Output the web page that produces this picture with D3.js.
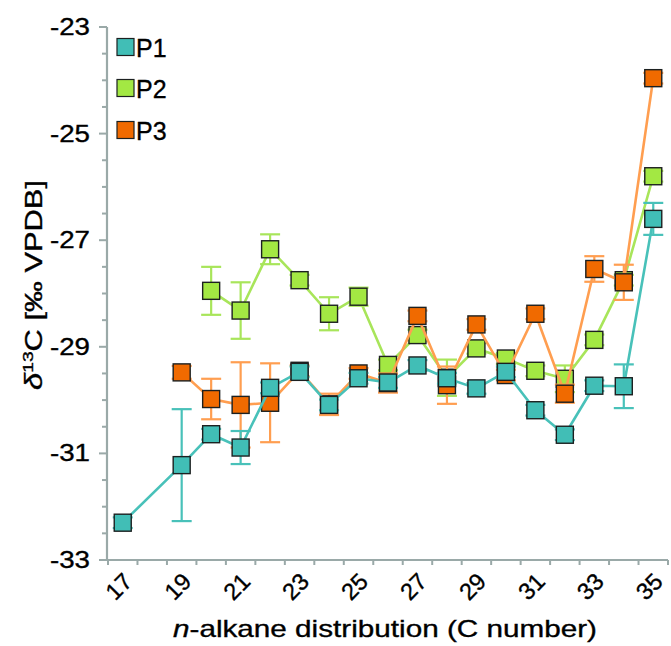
<!DOCTYPE html>
<html>
<head>
<meta charset="utf-8">
<script src="https://cdn.jsdelivr.net/npm/d3@7"></script>
<style>
  html, body { margin: 0; padding: 0; background: #ffffff; }
  svg { display: block; }
  text { font-family: "Liberation Sans", Arial, Helvetica, sans-serif; fill: #000; stroke: #000; stroke-width: 0.35px; }
</style>
</head>
<body>
<svg id="chart" width="671" height="646"></svg>
<script>
// ---- data ----
const carbon = [17,18,19,20,21,22,23,24,25,26,27,28,29,30,31,32,33,34,35];
const p1 = [-32.3, null, -31.22, -30.64, -30.89, -29.77, -29.47, -30.09, -29.59, -29.67, -29.35, -29.59, -29.78, -29.47, -30.19, -30.65, -29.73, -29.74, -26.6];
const p1Err = [0.1, null, 1.05, 0.1, 0.31, 0.1, 0.1, 0.1, 0.1, 0.1, 0.1, 0.1, 0.1, 0.1, 0.1, 0.1, 0.1, 0.41, 0.3];
const p2 = [null, null, null, -27.95, -28.32, -27.17, -27.75, -28.38, -28.06, -29.34, -28.78, -29.58, -29.03, -29.22, -29.45, -29.6, -28.87, -27.75, -25.8];
const p2Err = [null, null, null, 0.45, 0.53, 0.28, 0.1, 0.31, 0.17, 0.1, 0.1, 0.34, 0.1, 0.1, 0.1, 0.25, 0.1, 0.1, 0.1];
const p3 = [null, null, -29.48, -29.98, -30.09, -30.05, -29.45, -30.08, -29.5, -29.68, -28.42, -29.72, -28.58, -29.53, -28.38, -29.88, -27.54, -27.79, -23.96];
const p3Err = [null, null, 0.12, 0.38, 0.8, 0.74, 0.1, 0.2, 0.1, 0.18, 0.1, 0.35, 0.1, 0.1, 0.1, 0.17, 0.24, 0.33, 0.1];
const seriesNames = ["P1", "P2", "P3"];
const yTickValues = [-33, -31, -29, -27, -25, -23];
const xTickLabels = [17, 19, 21, 23, 25, 27, 29, 31, 33, 35];

// ---- styles ----
const fills = { P1: "#41beb6", P2: "#a3e843", P3: "#f06a00" };
const lineCols = { P1: "#48c1b9", P2: "#a8e55a", P3: "#ff9e50" };
const axisCol = "#9aa9a8";

const svg = d3.select("#chart");
const x = d3.scaleLinear().domain([16.5, 35.5]).range([108, 668]);
const y = d3.scaleLinear().domain([-33, -23]).range([560, 27]);

// ---- axes ----
const yAxisG = svg.append("g").attr("transform", "translate(107,0)");
const yMinor = d3.range(-33, -22.99, 0.5);
yAxisG.append("line").attr("x1", 0).attr("x2", 0).attr("y1", y(-23)).attr("y2", y(-33))
  .attr("stroke", axisCol).attr("stroke-width", 2.2);
yAxisG.selectAll("line.tk").data(yMinor).join("line").attr("class", "tk")
  .attr("x1", d => (Math.abs(d % 2) === 1 ? -8 : -5)).attr("x2", 0)
  .attr("y1", d => y(d)).attr("y2", d => y(d))
  .attr("stroke", axisCol).attr("stroke-width", 2);
yAxisG.selectAll("text").data(yTickValues).join("text")
  .attr("x", -17).attr("y", d => y(d) + 8)
  .attr("text-anchor", "end")
  .attr("font-size", 23)
  .attr("textLength", 40).attr("lengthAdjust", "spacingAndGlyphs")
  .text(d => d3.format("d")(d).replace("−", "-"));

const xAxisG = svg.append("g").attr("transform", "translate(0,560)");
xAxisG.append("line").attr("x1", 107).attr("x2", x(35.5)).attr("y1", 0).attr("y2", 0)
  .attr("stroke", axisCol).attr("stroke-width", 2.2);
xAxisG.selectAll("line.tk").data(d3.range(16.5, 35.51, 1)).join("line").attr("class", "tk")
  .attr("x1", d => x(d)).attr("x2", d => x(d)).attr("y1", 0).attr("y2", 5)
  .attr("stroke", axisCol).attr("stroke-width", 2);
xAxisG.selectAll("text").data(xTickLabels).join("text")
  .attr("transform", d => `translate(${x(d) + 11},${23}) rotate(-45)`)
  .attr("text-anchor", "end")
  .attr("font-size", 23.5)
  .text(d => d);

// ---- titles ----
const xt = svg.append("text").attr("x", 385).attr("y", 637).attr("text-anchor", "middle")
  .attr("font-size", 24).attr("textLength", 424).attr("lengthAdjust", "spacingAndGlyphs");
xt.append("tspan").attr("font-style", "italic").text("n");
xt.append("tspan").text("-alkane distribution (C number)");

const yt = svg.append("text").attr("transform", "translate(42,285) rotate(-90)")
  .attr("text-anchor", "middle").attr("font-size", 24)
  .attr("textLength", 210).attr("lengthAdjust", "spacingAndGlyphs");
yt.append("tspan").attr("font-style", "italic").text("δ");
yt.append("tspan").attr("font-size", 15).attr("dy", -9).text("13");
yt.append("tspan").attr("dy", 9).text("C [‰ VPDB]");

// ---- series ----
const all = {
  P1: { vals: p1, err: p1Err },
  P2: { vals: p2, err: p2Err },
  P3: { vals: p3, err: p3Err }
};
const drawOrder = ["P2", "P3", "P1"];
const ms = 17;
drawOrder.forEach(name => {
  const s = all[name];
  const pts = carbon.map((c, i) => ({ c, v: s.vals[i], e: s.err[i] })).filter(d => d.v !== null);
  const g = svg.append("g");
  // error bars
  const eb = g.selectAll("g.eb").data(pts.filter(d => d.e)).join("g").attr("class", "eb")
    .attr("stroke", lineCols[name]).attr("stroke-width", 2.2);
  eb.append("line").attr("x1", d => x(d.c)).attr("x2", d => x(d.c))
    .attr("y1", d => y(d.v + d.e)).attr("y2", d => y(d.v - d.e));
  eb.append("line").attr("x1", d => x(d.c) - 10).attr("x2", d => x(d.c) + 10)
    .attr("y1", d => y(d.v + d.e)).attr("y2", d => y(d.v + d.e));
  eb.append("line").attr("x1", d => x(d.c) - 10).attr("x2", d => x(d.c) + 10)
    .attr("y1", d => y(d.v - d.e)).attr("y2", d => y(d.v - d.e));
  // line
  g.append("path").datum(pts)
    .attr("d", d3.line().x(d => x(d.c)).y(d => y(d.v)))
    .attr("fill", "none").attr("stroke", lineCols[name]).attr("stroke-width", 2.6)
    .attr("stroke-linejoin", "round");
  // markers
  g.selectAll("rect").data(pts).join("rect")
    .attr("x", d => x(d.c) - ms / 2).attr("y", d => y(d.v) - ms / 2)
    .attr("width", ms).attr("height", ms)
    .attr("fill", fills[name]).attr("stroke", "#1c2020").attr("stroke-width", 1.4);
});

// ---- legend ----
const legY = [47, 88, 130];
const leg = svg.append("g");
seriesNames.forEach((name, i) => {
  leg.append("rect").attr("x", 117).attr("y", legY[i] - 8.5).attr("width", 17).attr("height", 17)
    .attr("fill", fills[name]).attr("stroke", "#1c2020").attr("stroke-width", 1.2);
  leg.append("text").attr("x", 136).attr("y", legY[i] + 9.5).attr("font-size", 25).text(name);
});
</script>
</body>
</html>
